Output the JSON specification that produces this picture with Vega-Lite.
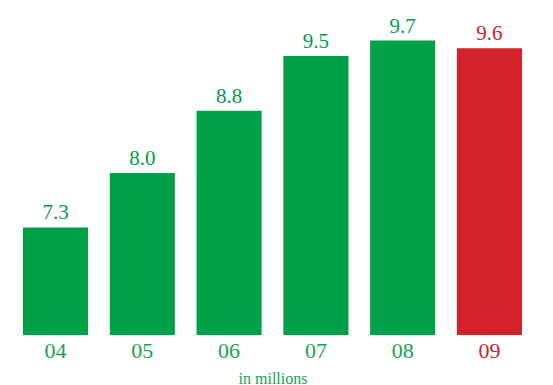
{
  "$schema": "https://vega.github.io/schema/vega-lite/v6.json",
  "width": 545,
  "height": 335,
  "autosize": "none",
  "padding": {"left": 0, "top": 0, "right": 8, "bottom": 50},
  "background": "white",
  "config": {"view": {"stroke": null}},
  "data": {
    "values": [
      {"year": "04", "value": 7.3, "highlight": "no"},
      {"year": "05", "value": 8.0, "highlight": "no"},
      {"year": "06", "value": 8.8, "highlight": "no"},
      {"year": "07", "value": 9.5, "highlight": "no"},
      {"year": "08", "value": 9.7, "highlight": "no"},
      {"year": "09", "value": 9.6, "highlight": "yes"}
    ]
  },
  "encoding": {
    "x": {
      "field": "year",
      "type": "nominal",
      "sort": null,
      "scale": {"paddingInner": 0.25, "paddingOuter": 0.265},
      "axis": {
        "title": "in millions",
        "titleFont": "Liberation Serif",
        "titleFontSize": 16,
        "titleFontWeight": "normal",
        "titleColor": "#1aa352",
        "titlePadding": 9,
        "labelFont": "Liberation Serif",
        "labelFontSize": 22,
        "labelAngle": 0,
        "labelPadding": 5,
        "labelColor": {"condition": {"test": "datum.value == '09'", "value": "#d2232a"}, "value": "#1aa352"},
        "domain": false,
        "ticks": false
      }
    },
    "y": {
      "field": "value",
      "type": "quantitative",
      "scale": {"domain": [5.92, 10.22], "zero": false, "nice": false},
      "axis": null
    },
    "color": {
      "field": "highlight",
      "type": "nominal",
      "scale": {"domain": ["no", "yes"], "range": ["#00a046", "#d2232a"]},
      "legend": null
    }
  },
  "layer": [
    {"mark": {"type": "bar", "clip": true}},
    {
      "mark": {"type": "text", "font": "Liberation Serif", "fontSize": 21, "baseline": "alphabetic", "dy": -8},
      "encoding": {
        "text": {"field": "value", "type": "quantitative", "format": ".1f"},
        "color": {
          "field": "highlight",
          "type": "nominal",
          "scale": {"domain": ["no", "yes"], "range": ["#1aa352", "#d2232a"]},
          "legend": null
        }
      }
    }
  ]
}
